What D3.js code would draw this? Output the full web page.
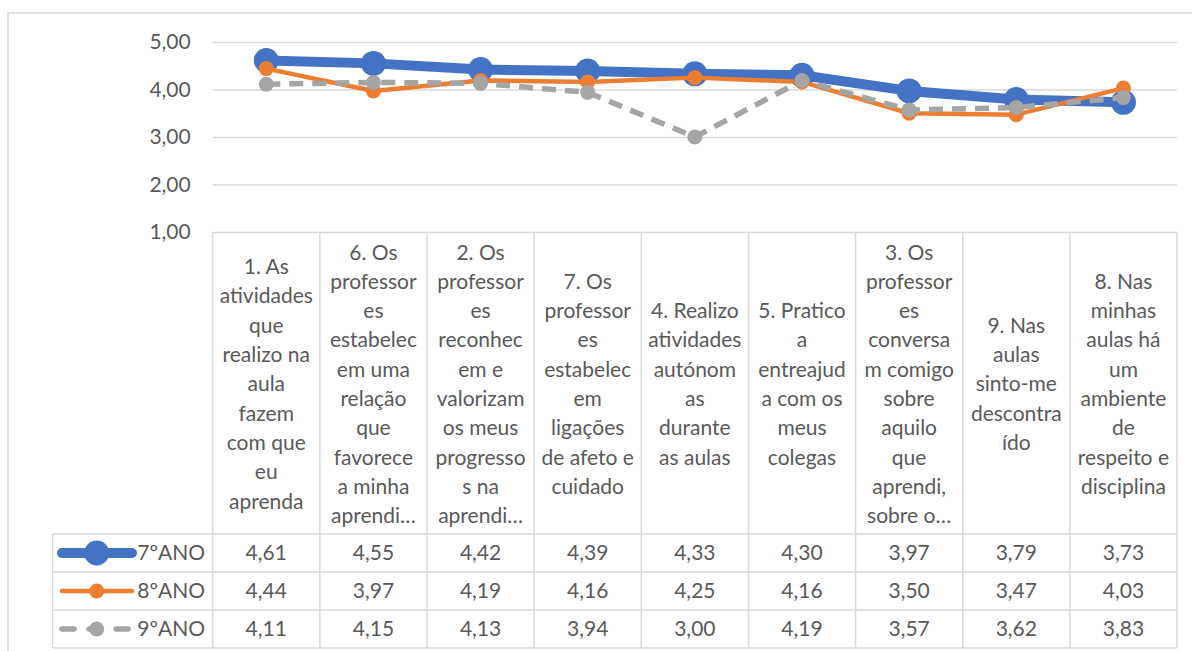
<!DOCTYPE html>
<html>
<head>
<meta charset="utf-8">
<script src="https://cdn.jsdelivr.net/npm/d3@7"></script>
<style>
  html, body { margin: 0; padding: 0; background: #ffffff; }
  svg { display: block; }
  text { font-family: Lato, "Open Sans", sans-serif; fill: #595959; }
</style>
</head>
<body>
<svg id="chart" width="1192" height="651"></svg>
<script>
// ---------- data ----------
const categoryLabels = [
  ["1. As","atividades","que","realizo na","aula","fazem","com que","eu","aprenda"],
  ["6. Os","professor","es","estabelec","em uma","relação","que","favorece","a minha","aprendi…"],
  ["2. Os","professor","es","reconhec","em e","valorizam","os meus","progresso","s na","aprendi…"],
  ["7. Os","professor","es","estabelec","em","ligações","de afeto e","cuidado"],
  ["4. Realizo","atividades","autónom","as","durante","as aulas"],
  ["5. Pratico","a","entreajud","a com os","meus","colegas"],
  ["3. Os","professor","es","conversa","m comigo","sobre","aquilo","que","aprendi,","sobre o…"],
  ["9. Nas","aulas","sinto-me","descontra","ído"],
  ["8. Nas","minhas","aulas há","um","ambiente","de","respeito e","disciplina"]
];
const categories = ["1","6","2","7","4","5","3","9","8"];
const seriesNames = ["7ºANO","8ºANO","9ºANO"];
const values7 = [4.61, 4.55, 4.42, 4.39, 4.33, 4.30, 3.97, 3.79, 3.73];
const values8 = [4.44, 3.97, 4.19, 4.16, 4.25, 4.16, 3.50, 3.47, 4.03];
const values9 = [4.11, 4.15, 4.13, 3.94, 3.00, 4.19, 3.57, 3.62, 3.83];
const yTicks = [1, 2, 3, 4, 5];

// ---------- styles ----------
const seriesStyle = [
  { color: "#4472C4", width: 10, r: 12.5, dash: null },
  { color: "#ED7D31", width: 4.5, r: 7.5, dash: null },
  { color: "#A5A5A5", width: 5.5, r: 7.5, dash: "14,9" }
];
const series = [values7, values8, values9];

const svg = d3.select("#chart");
const fontSize = 21;
const grid = "#D9D9D9";

const plotLeft = 212.7, plotRight = 1177, plotTop = 42, plotBottom = 232;
const tableLeft = 52.7, headerBottom = 534, rowH = 38;

const x = d3.scaleBand().domain(categories).range([plotLeft, plotRight]).padding(0);
const y = d3.scaleLinear().domain([1, 5]).range([plotBottom, plotTop]);
const fmt = v => d3.format(".2f")(v).replace(".", ",");
const cx = c => x(c) + x.bandwidth() / 2;

// outer chart border
svg.append("rect")
  .attr("x", 8).attr("y", 13).attr("width", 1200).attr("height", 700)
  .attr("fill", "none").attr("stroke", grid).attr("stroke-width", 1.5);

// gridlines + y axis
const yAxis = d3.axisLeft(y).tickValues(yTicks).tickFormat(fmt)
  .tickSize(-(plotRight - plotLeft)).tickPadding(22);
const gy = svg.append("g").attr("transform", `translate(${plotLeft},0)`).call(yAxis);
gy.select(".domain").remove();
gy.selectAll(".tick line").attr("stroke", grid).attr("stroke-width", 1.5);
gy.selectAll(".tick text").attr("font-size", fontSize).attr("fill", "#595959")
  .style("font-family", "Lato, 'Open Sans', sans-serif");

// data table lines
const tableBottom = headerBottom + rowH * 3;
const tl = svg.append("g").attr("stroke", grid).attr("stroke-width", 1.5);
// vertical column lines
const colEdges = categories.map(c => x(c)).concat([plotRight]);
tl.selectAll("line.v").data(colEdges).join("line")
  .attr("x1", d => d).attr("x2", d => d)
  .attr("y1", plotBottom).attr("y2", tableBottom);
tl.append("line").attr("x1", tableLeft).attr("x2", tableLeft)
  .attr("y1", headerBottom).attr("y2", tableBottom);
// horizontal row lines
tl.selectAll("line.h").data([0,1,2,3]).join("line")
  .attr("x1", tableLeft).attr("x2", plotRight)
  .attr("y1", d => headerBottom + d * rowH).attr("y2", d => headerBottom + d * rowH);

// category labels
const lineH = 29.3;
const headerMid = (plotBottom + headerBottom) / 2 + 1;
categories.forEach((c, i) => {
  const lines = categoryLabels[i];
  const t = svg.append("text")
    .attr("x", cx(c)).attr("text-anchor", "middle").attr("font-size", fontSize);
  const y0 = headerMid - (lines.length - 1) * lineH / 2;
  lines.forEach((s, j) => {
    t.append("tspan").attr("x", cx(c)).attr("y", y0 + j * lineH).attr("dy", "0.35em").text(s);
  });
});

// values
series.forEach((vals, si) => {
  const rowMid = headerBottom + si * rowH + rowH / 2;
  svg.append("g").selectAll("text").data(vals).join("text")
    .attr("x", (d, i) => cx(categories[i]))
    .attr("y", rowMid).attr("dy", "0.35em")
    .attr("text-anchor", "middle").attr("font-size", fontSize)
    .text(d => fmt(d));
  // legend key
  const st = seriesStyle[si];
  const kg = svg.append("g");
  kg.append("line").attr("x1", 62).attr("x2", 132).attr("y1", rowMid).attr("y2", rowMid)
    .attr("stroke", st.color).attr("stroke-width", st.width)
    .attr("stroke-linecap", "round")
    .attr("stroke-dasharray", st.dash ? "12,15" : null);
  kg.append("circle").attr("cx", 96.7).attr("cy", rowMid).attr("r", st.r)
    .attr("fill", st.color);
  svg.append("text").attr("x", 205).attr("y", rowMid).attr("dy", "0.35em")
    .attr("text-anchor", "end").attr("font-size", fontSize).text(seriesNames[si]);
});

// series lines (draw 7 first, then 8, then 9 on top)
const line = d3.line().x((d, i) => cx(categories[i])).y(d => y(d));
series.forEach((vals, si) => {
  const st = seriesStyle[si];
  const g = svg.append("g");
  g.append("path").datum(vals).attr("d", line)
    .attr("fill", "none").attr("stroke", st.color).attr("stroke-width", st.width)
    .attr("stroke-linejoin", "round")
    .attr("stroke-linecap", st.dash ? "butt" : "round")
    .attr("stroke-dasharray", st.dash);
  g.selectAll("circle").data(vals).join("circle")
    .attr("cx", (d, i) => cx(categories[i])).attr("cy", d => y(d))
    .attr("r", st.r).attr("fill", st.color);
});
</script>
</body>
</html>
